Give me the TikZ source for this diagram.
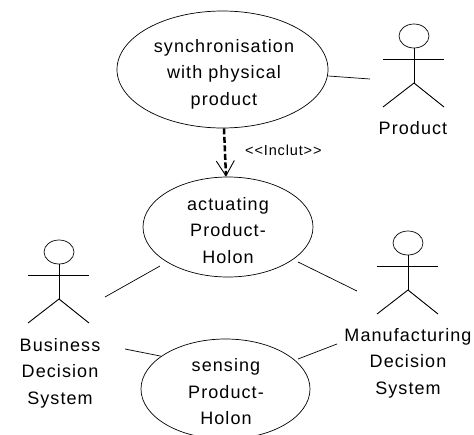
\documentclass[tikz,border=0pt]{standalone}
\usepackage{fontspec}
\setmainfont{Liberation Sans}
\usetikzlibrary{arrows.meta,calc,positioning,shapes.geometric}

\tikzset{
  usecase/.style={draw, ellipse, inner sep=0pt, line width=0.7pt},
  casetext/.style={align=center, inner sep=0pt},
  actorhead/.style={draw, ellipse, line width=0.7pt, minimum width=30pt, minimum height=24pt, inner sep=0pt},
  assoc/.style={line width=0.7pt},
}

\begin{document}
\begin{tikzpicture}[x=1pt, y=-1pt, >={Straight Barb[length=15pt,width=18pt,line width=0.9pt]},
    font=\fontsize{18}{26.5}\selectfont\addfontfeature{LetterSpace=6}]
  \useasboundingbox (0,0) rectangle (474,434);

  % Use cases
  \node[usecase, minimum width=211pt, minimum height=117pt] (sync) at (222.5,69.5) {};
  \node[usecase, minimum width=170pt, minimum height=100pt] (actuating) at (228,227) {};
  \node[usecase, minimum width=169pt, minimum height=100pt] (sensing) at (225.5,389) {};
  \node[casetext] (synctext) at (224,74) {synchronisation\\with physical\\product};
  \node[casetext] (actuatingtext) at (228,230.5) {actuating\\Product-\\Holon};
  \node[casetext] (sensingtext) at (226,392) {sensing\\Product-\\Holon};

  % Actors
  \foreach \name/\x/\y in {product/414/36, business/59/252, manufacturing/408/243} {
    \node[actorhead] (\name) at (\x,\y) {};
    \coordinate (\name waist) at (\x,\y+47);
    \draw[line width=0.9pt] (\name.south) -- (\name waist);
    \draw[assoc] (\x-31,\y+23) -- (\x+30,\y+23);
    \draw[line width=0.9pt] (\x-31,\y+71) -- (\name waist) -- (\x+30,\y+71);
  }

  % Actor labels
  \node[casetext] (productlabel) at (413,128) {Product};
  \node[casetext] (businesslabel) at (60,373) {Business\\Decision\\System};
  \node[casetext] (manufacturinglabel) at (408,363) {Manufacturing\\Decision\\System};

  % Free ends of the associations
  \coordinate (productend) at (370,79);
  \coordinate (businessup) at (105,297);
  \coordinate (actuatingleft) at (160,266);
  \coordinate (businessdown) at (125,349);
  \coordinate (manufacturingup) at (357,291);
  \coordinate (actuatingright) at (298,262);
  \coordinate (manufacturingdown) at (337,344);
  \coordinate (sensingright) at (298,359);

  % Associations
  \draw[assoc] (sync.east) ++(0,6.5) -- (productend);
  \draw[assoc] (businessup) -- (actuatingleft);
  \draw[assoc] (businessdown) -- (sensing.153);
  \draw[assoc] (actuatingright) -- (manufacturingup);
  \draw[assoc] (sensingright) -- (manufacturingdown);

  % Include
  \draw[->, line width=2.5pt, dash pattern=on 6pt off 2.5pt] ([xshift=1.5pt]sync.south) -- ([xshift=-2pt]actuating.north);
  \node[font=\fontsize{14.5}{16}\selectfont\addfontfeature{LetterSpace=6}, anchor=west, inner sep=0pt] (includelabel) at (245,150) {<{}<Inclut>{}>};
\end{tikzpicture}
\end{document}
